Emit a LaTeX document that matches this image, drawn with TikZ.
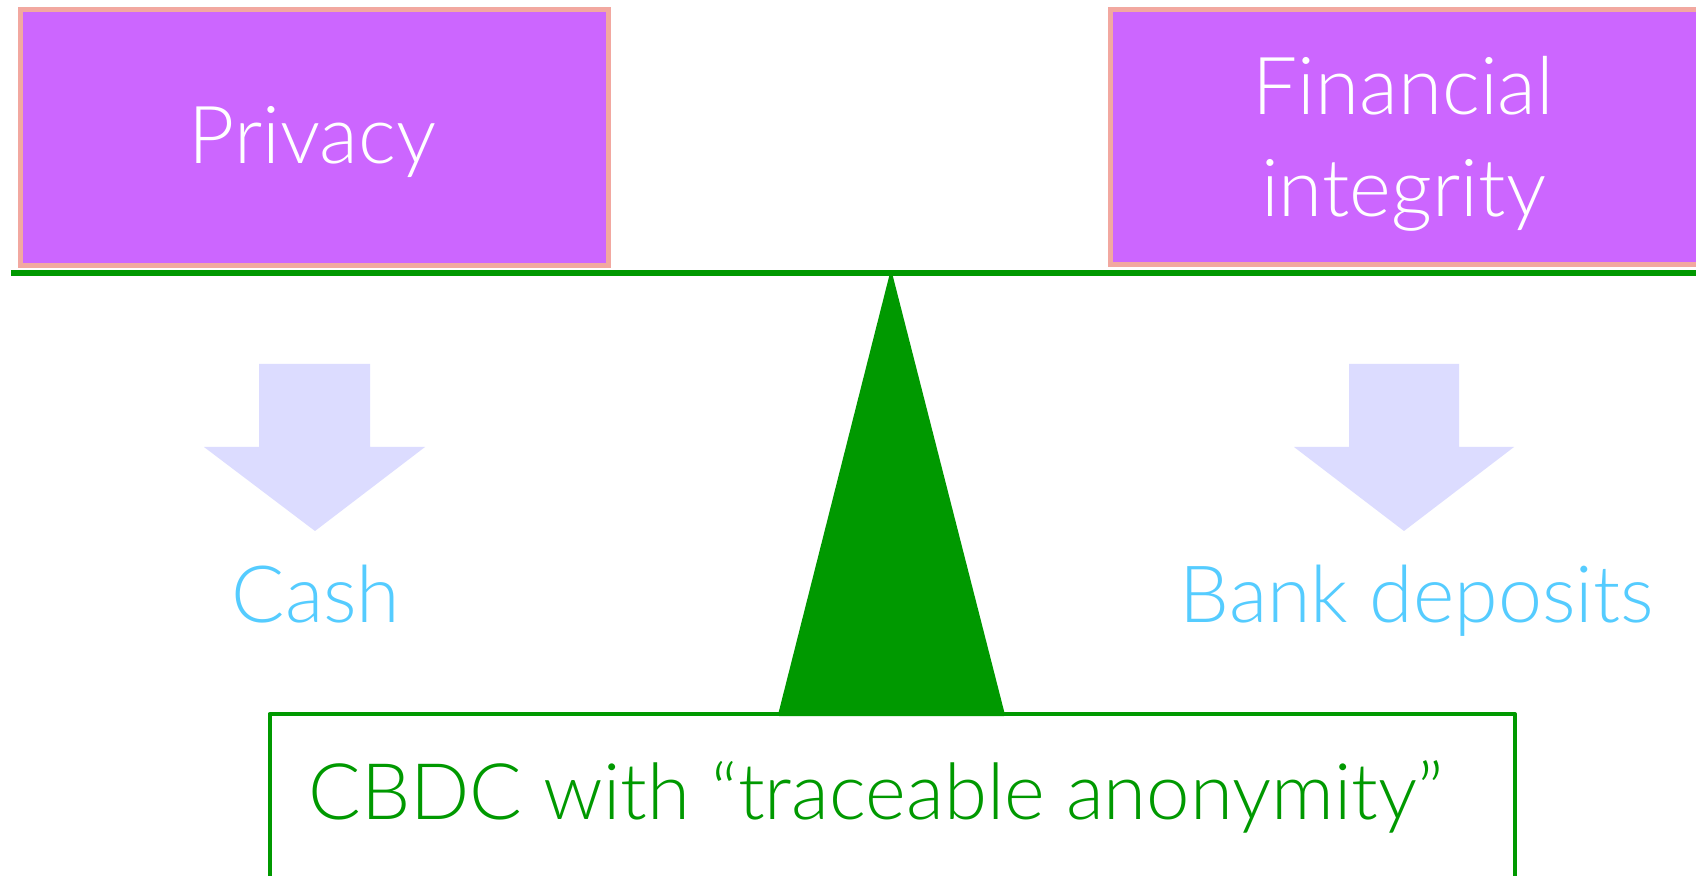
\documentclass[tikz,border=0pt]{standalone}
\usepackage{fontspec}
\setmainfont{Lato}[UprightFont={* Light}]
\definecolor{boxfill}{HTML}{CC66FF}
\definecolor{boxline}{HTML}{F2A8A0}
\definecolor{beamgreen}{HTML}{009900}
\definecolor{arrowfill}{HTML}{DCDCFF}
\definecolor{labelblue}{HTML}{55CCFF}
\tikzset{
  topbox/.style={draw=boxline, fill=boxfill, line width=2.5pt, inner sep=0pt},
  boxtext/.style={text=white, anchor=base, inner sep=0pt, font=\fontsize{40}{51}\selectfont},
  bluelabel/.style={text=labelblue, anchor=base, inner sep=0pt, font=\fontsize{39.5}{51}\selectfont},
  greenlabel/.style={text=beamgreen, anchor=base, inner sep=0pt, font=\fontsize{39}{51}\selectfont},
  blockarrow/.style={fill=arrowfill, draw=none},
  beam/.style={draw=beamgreen, line width=3pt},
  fulcrum/.style={fill=beamgreen, draw=beamgreen, line width=1pt, line join=round},
  basebox/.style={draw=beamgreen, line width=2pt, line join=round}
}
\begin{document}
\begin{tikzpicture}[x=0.5pt, y=-0.5pt]
\useasboundingbox (0,0) rectangle (1696,876);
\clip (0,0) rectangle (1696,876);
\fill[white] (0,0) rectangle (1696,876);

% top boxes
\node[topbox, minimum width=294pt, minimum height=128pt] (privacy) at (314.5,137.5) {};
\node[boxtext] (privacytext) at (312.5,164) {Privacy};
\node[topbox, minimum width=293.75pt, minimum height=127.5pt] (integrity) at (1404.25,137) {};
\node[boxtext] (integritytext1) at (1403.5,115) {Financial};
\node[boxtext] (integritytext2) at (1403.5,217) {integrity};

% beam
\coordinate (beamL) at (11,273);
\coordinate (beamR) at (1700,273);
\draw[beam] (beamL) -- (beamR);

% fulcrum
\coordinate (apex) at (891,273);
\coordinate (baseR) at (1004,715);
\coordinate (baseL) at (779,715);
\filldraw[fulcrum] (apex) -- (baseR) -- (baseL) -- cycle;

% block arrows
\fill[blockarrow] (259,364) -- (370,364) -- (370,447) -- (425,447) -- (315,531) -- (204,447) -- (259,447) -- cycle;
\fill[blockarrow] (1349,364) -- (1459,364) -- (1459,447) -- (1514,447) -- (1404,531) -- (1294,447) -- (1349,447) -- cycle;

% labels
\node[bluelabel] (cash) at (316,622) {Cash};
\node[bluelabel] (bank) at (1417,622) {Bank deposits};

% bottom box
\coordinate (bbL) at (269.5,900);
\coordinate (bbTL) at (269.5,714);
\coordinate (bbTR) at (1515,714);
\coordinate (bbR) at (1515,900);
\draw[basebox] (bbL) -- (bbTL) -- (bbTR) -- (bbR);
\node[greenlabel] (cbdc) at (876,819) {CBDC with “traceable anonymity”};
\end{tikzpicture}
\end{document}
